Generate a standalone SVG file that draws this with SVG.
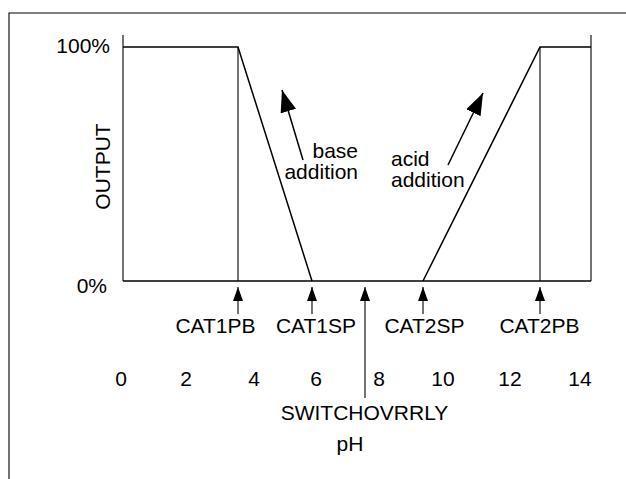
<svg xmlns="http://www.w3.org/2000/svg" width="626" height="479" viewBox="0 0 626 479">
<style>
text{font-family:"Liberation Sans",Arial,sans-serif;font-size:21px;fill:#000}
.ln{stroke:#000;fill:none;stroke-width:1.5}
.thin{stroke:#000;fill:none;stroke-width:1.1}
.mid{text-anchor:middle}
</style>
<defs>
<marker id="big" markerUnits="userSpaceOnUse" markerWidth="24" markerHeight="18" refX="22" refY="8" orient="auto"><path d="M0,0 L22,8 L0,16 Z" fill="#000"/></marker>
<marker id="sm" markerUnits="userSpaceOnUse" markerWidth="16" markerHeight="12" refX="14" refY="5" orient="auto"><path d="M0,0 L14,5 L0,10 Z" fill="#000"/></marker>
</defs>
<g id="frame">
<path class="thin" d="M9,479 V13 H626"/>
</g>
<g id="plot">
<path class="thin" d="M123,35 V281"/>
<path class="thin" d="M591,35 V281"/>
<path class="ln" d="M123,281 H591"/>
<path class="ln" d="M123,47 H238 L312,281"/>
<path class="thin" d="M238,47 V281"/>
<path class="ln" d="M423,281 L540,47 H591"/>
<path class="thin" d="M540,47 V281"/>
</g>
<g id="axis-labels">
<text x="110" y="53" text-anchor="end">100%</text>
<text x="107" y="293" text-anchor="end">0%</text>
<text class="mid" transform="translate(110,166.5) rotate(-90)">OUTPUT</text>
<text x="121" y="386" class="mid">0</text>
<text x="186" y="386" class="mid">2</text>
<text x="254" y="386" class="mid">4</text>
<text x="316" y="386" class="mid">6</text>
<text x="379" y="386" class="mid">8</text>
<text x="443" y="386" class="mid">10</text>
<text x="510" y="386" class="mid">12</text>
<text x="580" y="386" class="mid">14</text>
<text x="350" y="451" class="mid">pH</text>
</g>
<g id="connectors">
<line class="ln" x1="303" y1="160" x2="282" y2="90" marker-end="url(#big)"/>
<line class="ln" x1="448" y1="165" x2="483" y2="93" marker-end="url(#big)"/>
<line class="thin" x1="238" y1="314" x2="238" y2="287" marker-end="url(#sm)"/>
<line class="thin" x1="312" y1="314" x2="312" y2="287" marker-end="url(#sm)"/>
<line class="thin" x1="365" y1="398" x2="365" y2="287" marker-end="url(#sm)"/>
<line class="thin" x1="423" y1="314" x2="423" y2="287" marker-end="url(#sm)"/>
<line class="thin" x1="540" y1="314" x2="540" y2="287" marker-end="url(#sm)"/>
</g>
<g id="base-addition">
<text x="358" y="158" text-anchor="end">base</text>
<text x="358" y="179" text-anchor="end">addition</text>
</g>
<g id="acid-addition">
<text x="391" y="166">acid</text>
<text x="391" y="187">addition</text>
</g>
<g id="CAT1PB"><text x="215.5" y="333" class="mid">CAT1PB</text></g>
<g id="CAT1SP"><text x="316" y="333" class="mid">CAT1SP</text></g>
<g id="CAT2SP"><text x="424.5" y="333" class="mid">CAT2SP</text></g>
<g id="CAT2PB"><text x="539.5" y="333" class="mid">CAT2PB</text></g>
<g id="SWITCHOVRRLY"><text x="364.5" y="420" class="mid">SWITCHOVRRLY</text></g>
</svg>
